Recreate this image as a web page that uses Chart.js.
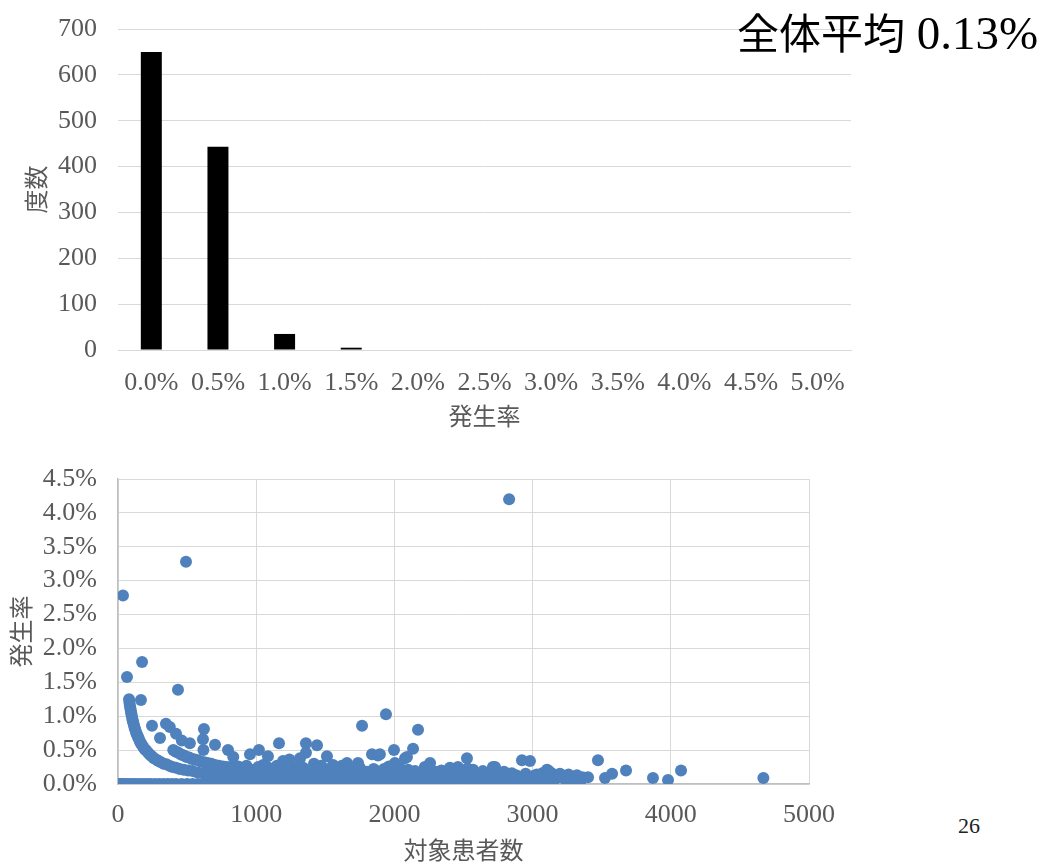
<!DOCTYPE html>
<html>
<head>
<meta charset="utf-8">
<script src="https://cdn.jsdelivr.net/npm/chart.js@4.4.1/dist/chart.umd.min.js"></script>
<style>
  body { margin: 0; background: #fff; }
  #page { position: relative; width: 1048px; height: 865px; overflow: hidden; }
  canvas { position: absolute; left: 0; }
  #histChart { top: 0; }
  #scatterChart { top: 440px; }
  #headline { position: absolute; left: 737px; top: 0px; white-space: nowrap; color: #000; }
  #headline .jp { font-family: "Noto Sans CJK JP"; font-size: 42px; }
  #headline .num { font-family: "Liberation Serif"; font-size: 47px; }
  #pageNo { position: absolute; left: 958px; top: 813px; font-family: "Liberation Serif"; font-size: 22px; color: #222; }
</style>
</head>
<body>
<div id="page">
  <canvas id="histChart" width="870" height="440"></canvas>
  <canvas id="scatterChart" width="870" height="425"></canvas>
  <div id="headline"><span class="jp">全体平均</span><span class="num"> 0.13%</span></div>
  <div id="pageNo">26</div>
</div>
<script>
// histogram: 発生率 bins -> 度数
const binLabels = ['0.0%', '0.5%', '1.0%', '1.5%', '2.0%', '2.5%', '3.0%', '3.5%', '4.0%', '4.5%', '5.0%'];
const binCounts = [650, 443, 35, 5, 0, 0, 0, 0, 0, 0, 0];

// scatter: [対象患者数, 発生率 %]
const zeroRateCounts = [5, 15, 30, 45, 60, 80, 100, 120, 140, 165, 190, 215, 240, 270, 300, 330, 360, 390, 420, 460,
  500, 540, 580, 620, 660, 700, 740, 780, 820, 860, 900, 950, 1000, 1050, 1100, 1150, 1200, 1250, 1300, 1350,
  1400, 1460, 1520, 1580, 1640, 1700, 1760, 1820, 1880, 1940, 2000, 2060, 2120, 2180, 2240, 2300, 2380, 2460,
  2540, 2620, 2700, 2780, 2860, 2950, 3050, 3150, 3340];

const oneCasePoints = [[80, 1.25], [83, 1.2], [86, 1.16], [89, 1.12], [92, 1.09], [95, 1.05], [98, 1.02], [102, 0.98],
  [106, 0.94], [110, 0.91], [115, 0.87], [120, 0.83], [125, 0.8], [131, 0.76], [137, 0.73], [143, 0.7], [150, 0.67],
  [158, 0.63], [166, 0.6], [175, 0.57], [185, 0.54], [195, 0.51], [206, 0.49], [218, 0.46], [231, 0.43], [245, 0.41],
  [260, 0.38], [276, 0.36], [293, 0.34], [311, 0.32], [330, 0.3], [350, 0.29], [372, 0.27], [395, 0.25], [420, 0.24],
  [447, 0.22], [476, 0.21], [507, 0.2], [540, 0.19], [575, 0.17], [613, 0.16], [653, 0.15], [696, 0.14], [742, 0.13],
  [791, 0.13], [843, 0.12], [899, 0.11], [958, 0.1], [1021, 0.1], [1088, 0.09], [1160, 0.09], [1237, 0.08], [1319, 0.08]];

const twoCasePoints = [[400, 0.5], [415, 0.48], [430, 0.47], [445, 0.45], [460, 0.43], [478, 0.42], [496, 0.4],
  [515, 0.39], [535, 0.37], [556, 0.36], [578, 0.35], [601, 0.33], [625, 0.32], [650, 0.31], [676, 0.3], [703, 0.28],
  [731, 0.27], [760, 0.26], [790, 0.25], [822, 0.24], [855, 0.23], [890, 0.22], [926, 0.22], [964, 0.21], [1003, 0.2],
  [1044, 0.19], [1087, 0.18], [1131, 0.18], [1177, 0.17], [1225, 0.16], [1275, 0.16], [1327, 0.15], [1381, 0.14],
  [1437, 0.14], [1496, 0.13], [1557, 0.13], [1620, 0.12]];

const clusterPoints = [[820, 0.06], [850, 0.15], [880, 0.09], [910, 0.18], [940, 0.05], [960, 0.12], [990, 0.21],
  [1010, 0.07], [1040, 0.14], [1070, 0.04], [1090, 0.24], [1110, 0.11], [1140, 0.17], [1160, 0.06], [1190, 0.13],
  [1220, 0.2], [1240, 0.09], [1270, 0.03], [1290, 0.16], [1320, 0.11], [1340, 0.24], [1370, 0.06], [1390, 0.14],
  [1420, 0.19], [1450, 0.08], [1480, 0.12], [1500, 0.22], [1530, 0.05], [1560, 0.16], [1590, 0.1], [1620, 0.27],
  [1650, 0.07], [1680, 0.13], [1710, 0.2], [1740, 0.09], [1770, 0.16], [1790, 0.04], [1820, 0.12], [1850, 0.22],
  [1880, 0.08], [1910, 0.15], [1940, 0.11], [1960, 0.26], [1990, 0.06], [2020, 0.18], [2050, 0.12], [2080, 0.09],
  [2100, 0.21], [2130, 0.05], [2160, 0.14], [2190, 0.1], [2220, 0.25], [2250, 0.07], [2280, 0.16], [2310, 0.12],
  [2340, 0.2], [2370, 0.04], [2400, 0.14], [2430, 0.09], [2460, 0.25], [2490, 0.11], [2520, 0.06], [2550, 0.17],
  [2580, 0.12], [2610, 0.08], [2640, 0.19], [2670, 0.14], [2700, 0.05], [2730, 0.1], [2760, 0.16], [2790, 0.12],
  [2830, 0.07], [2860, 0.03], [2900, 0.11], [2940, 0.06], [2960, 0.02], [3000, 0.09], [3030, 0.14], [3060, 0.05],
  [3090, 0.11], [3130, 0.17], [3160, 0.08], [3200, 0.12], [3240, 0.06], [3280, 0.1], [3300, 0.04],
  [830, 0.21], [870, 0.26], [900, 0.03], [930, 0.27], [975, 0.03], [1000, 0.16], [1050, 0.28], [1080, 0.18],
  [1120, 0.02], [1150, 0.27], [1180, 0.03], [1210, 0.08], [1260, 0.18], [1300, 0.25], [1330, 0.02], [1380, 0.19],
  [1410, 0.03], [1440, 0.15], [1470, 0.27], [1510, 0.03], [1550, 0.09], [1600, 0.04], [1640, 0.19], [1700, 0.04],
  [1750, 0.24], [1800, 0.18], [1860, 0.02], [1900, 0.05], [1950, 0.18], [2000, 0.02], [2060, 0.06], [2110, 0.16],
  [2170, 0.03], [2200, 0.17], [2260, 0.21], [2320, 0.07], [2380, 0.11], [2420, 0.18], [2480, 0.02], [2530, 0.23],
  [2600, 0.14], [2660, 0.04], [2720, 0.2], [2780, 0.02], [2850, 0.16], [2920, 0.09], [2990, 0.05], [3080, 0.02],
  [3150, 0.04],
  [1015, 0.25], [1065, 0.1], [1125, 0.22], [1175, 0.15], [1230, 0.26], [1285, 0.05], [1315, 0.2], [1355, 0.16],
  [1400, 0.09], [1435, 0.24], [1465, 0.04], [1495, 0.17], [1545, 0.21], [1575, 0.13], [1610, 0.08], [1665, 0.23],
  [1695, 0.1], [1725, 0.15], [1760, 0.06], [1810, 0.08], [1840, 0.15], [1870, 0.19], [1925, 0.22], [1975, 0.13],
  [2010, 0.09], [2040, 0.24], [2070, 0.15], [2125, 0.11], [2150, 0.19], [2210, 0.08], [2240, 0.13], [2270, 0.03],
  [2300, 0.18], [2350, 0.09], [2390, 0.2], [2440, 0.13], [2470, 0.07], [2500, 0.16], [2545, 0.09], [2570, 0.21],
  [2620, 0.11], [2650, 0.07], [2690, 0.17], [2740, 0.13], [2770, 0.08], [2810, 0.15], [2880, 0.13], [2910, 0.05],
  [2950, 0.15], [3010, 0.12], [3045, 0.08], [3070, 0.16], [3110, 0.07], [3170, 0.13], [3220, 0.09], [3260, 0.14],
  [3320, 0.07], [3360, 0.1]];

const outlierPoints = [[36, 2.78], [492, 3.28], [2830, 4.2], [65, 1.58], [174, 1.8], [166, 1.24], [434, 1.39],
  [1766, 0.86], [1939, 1.03], [2171, 0.8], [246, 0.86], [304, 0.68], [347, 0.89], [375, 0.84], [420, 0.74],
  [462, 0.64], [520, 0.6], [615, 0.66], [622, 0.81], [618, 0.5], [702, 0.58], [796, 0.5], [834, 0.4], [955, 0.44],
  [1020, 0.5], [1085, 0.41], [1165, 0.6], [1194, 0.34], [1240, 0.36], [1317, 0.38], [1360, 0.46], [1360, 0.6],
  [1440, 0.57], [1418, 0.3], [1512, 0.41], [1556, 0.28], [1657, 0.31], [1737, 0.31], [1838, 0.44], [1881, 0.42],
  [1895, 0.44], [2004, 0.31], [1997, 0.5], [2077, 0.38], [2091, 0.4], [2135, 0.52], [2258, 0.31], [2402, 0.24],
  [2525, 0.38], [2713, 0.25], [2728, 0.25], [2793, 0.18], [2923, 0.35], [2981, 0.34], [3104, 0.21], [3111, 0.2],
  [3198, 0.15], [3321, 0.13], [3343, 0.02], [3401, 0.1], [3473, 0.35], [3524, 0.09], [3575, 0.15], [3676, 0.2],
  [3871, 0.09], [3980, 0.06], [4074, 0.2], [4670, 0.09]];

const tickFont = { family: 'Liberation Serif', size: 26 };
const titleFont = { family: 'Noto Sans CJK JP', size: 24 };
const textGray = '#595959';
const gridGray = '#d9d9d9';

// keep the plot box where the layout padding puts it
const fixWidth = (w) => (scale) => { scale.width = w; scale.paddingTop = 0; scale.paddingBottom = 0; };
const fixHeight = (h) => (scale) => { scale.height = h; scale.paddingLeft = 0; scale.paddingRight = 0; };

new Chart(document.getElementById('histChart'), {
  type: 'bar',
  data: {
    labels: binLabels,
    datasets: [{
      data: binCounts,
      backgroundColor: '#000',
      barPercentage: 0.315,
      categoryPercentage: 1,
    }],
  },
  options: {
    responsive: false,
    animation: false,
    layout: { padding: { top: 29, right: 19, left: 0, bottom: 0 } },
    plugins: { legend: { display: false }, tooltip: { enabled: false } },
    scales: {
      x: {
        grid: { display: false, drawTicks: false },
        border: { color: gridGray },
        ticks: { font: tickFont, color: textGray, padding: 18, maxRotation: 0, autoSkip: false },
        title: { display: true, text: '発生率', font: titleFont, color: textGray, padding: { top: 0, bottom: 10 } },
        afterFit: fixHeight(90),
      },
      y: {
        min: 0,
        max: 700,
        grid: { color: gridGray, drawTicks: false },
        border: { display: false },
        ticks: { stepSize: 100, font: tickFont, color: textGray, padding: 21, autoSkip: false },
        title: { display: true, text: '度数', font: titleFont, color: textGray, padding: { top: 21, bottom: 0 } },
        afterFit: fixWidth(118),
      },
    },
  },
});

const toXY = (p) => ({ x: p[0], y: p[1] });
const allPoints = [
  ...zeroRateCounts.map((n) => ({ x: n, y: 0 })),
  ...oneCasePoints.map(toXY),
  ...twoCasePoints.map(toXY),
  ...clusterPoints.map(toXY),
  ...outlierPoints.map(toXY),
];

new Chart(document.getElementById('scatterChart'), {
  type: 'scatter',
  data: {
    datasets: [{
      data: allPoints,
      backgroundColor: '#4f81bd',
      borderWidth: 0,
      pointRadius: 6,
    }],
  },
  options: {
    responsive: false,
    animation: false,
    layout: { padding: { top: 39, right: 61, left: 0, bottom: 0 } },
    plugins: { legend: { display: false }, tooltip: { enabled: false } },
    scales: {
      x: {
        min: 0,
        max: 5000,
        grid: { color: gridGray, drawTicks: false },
        border: { color: '#bfbfbf', width: 1.5 },
        ticks: { stepSize: 1000, font: tickFont, color: textGray, padding: 16, maxRotation: 0, autoSkip: false,
          callback: (v) => String(v) },
        title: { display: true, text: '対象患者数', font: titleFont, color: textGray, padding: { top: 0, bottom: 1 } },
        afterFit: fixHeight(81),
      },
      y: {
        min: 0,
        max: 4.5,
        grid: { color: gridGray, drawTicks: false },
        border: { color: '#bfbfbf', width: 1.5 },
        ticks: { stepSize: 0.5, font: tickFont, color: textGray, padding: 21, autoSkip: false,
          callback: (v) => v.toFixed(1) + '%' },
        title: { display: true, text: '発生率', font: titleFont, color: textGray, padding: { top: 6, bottom: 0 } },
        afterFit: fixWidth(118),
      },
    },
  },
});
</script>
</body>
</html>
